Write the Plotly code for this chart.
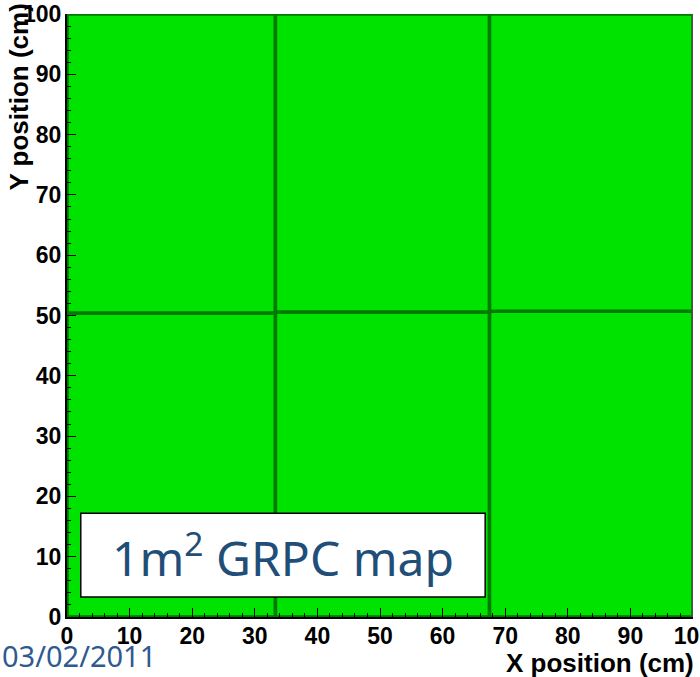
import plotly.graph_objects as go

# Pad boundaries of the 1 m^2 GRPC (cm): one rectangle per readout board
cell_x0 = [0.0, 0.0, 33.3, 33.3, 67.5, 67.5]
cell_x1 = [33.3, 33.3, 67.5, 67.5, 100.0, 100.0]
cell_y0 = [0.0, 50.4, 0.0, 50.6, 0.0, 50.7]
cell_y1 = [50.4, 100.0, 50.6, 100.0, 50.7, 100.0]

tick_vals = [0, 10, 20, 30, 40, 50, 60, 70, 80, 90, 100]
tick_text = [str(v) for v in tick_vals]

fig = go.Figure()
for x0, x1, y0, y1 in zip(cell_x0, cell_x1, cell_y0, cell_y1):
    fig.add_trace(go.Scatter(
        x=[x0, x1, x1, x0, x0],
        y=[y0, y0, y1, y1, y0],
        mode="lines",
        fill="toself",
        fillcolor="#00e300",
        line=dict(color="#007a00", width=3.5),
        hoverinfo="skip",
        showlegend=False,
    ))

tick_font = dict(family="Liberation Sans, Arial, sans-serif", size=23, color="black",
                 weight="bold")
axis_common = dict(
    range=[0, 100],
    tickvals=tick_vals,
    ticktext=tick_text,
    ticks="inside",
    ticklen=9,
    tickwidth=1,
    tickcolor="black",
    minor=dict(ticks="inside", ticklen=4, dtick=2, tickcolor="black"),
    showgrid=False,
    zeroline=False,
    showline=True,
    linecolor="black",
    linewidth=2,
    tickfont=tick_font,
    ticklabeloverflow="allow",
    automargin=False,
    layer="above traces",
)
fig.update_xaxes(**axis_common, ticklabelstandoff=-3)
fig.update_yaxes(**axis_common, ticklabelstandoff=-1)

# frame shadow on the right edge
fig.add_shape(type="line", x0=100, x1=100, y0=0, y1=100, xref="x", yref="y",
              line=dict(color="#505050", width=2.5), layer="above")

# title box
fig.add_shape(type="rect", x0=2.2, x1=66.8, y0=3.3, y1=17.2, xref="x", yref="y",
              fillcolor="white", line=dict(color="black", width=1.5), layer="above")
fig.add_annotation(x=34.5, y=10.3, xref="x", yref="y",
                   text="1m<sup>2</sup> GRPC map", showarrow=False,
                   font=dict(family="Noto Sans, sans-serif", size=48, color="#1f4e79"))

# axis titles
title_font = dict(family="Liberation Sans, Arial, sans-serif", size=26, color="black",
                  weight="bold")
fig.add_annotation(x=1, y=0, xref="paper", yref="paper", xanchor="right", yanchor="middle",
                   xshift=3, yshift=-46, text="X position (cm)", showarrow=False,
                   font=title_font)
fig.add_annotation(x=0, y=1, xref="paper", yref="paper", xanchor="center", yanchor="top",
                   xshift=-49, yshift=12, textangle=-90, text="Y position (cm)",
                   showarrow=False, font=title_font)

# date stamp
fig.add_annotation(x=0, y=0, xref="paper", yref="paper", xanchor="left", yanchor="middle",
                   xshift=-67, yshift=-38, text="03/02/2011", showarrow=False,
                   font=dict(family="Noto Sans, sans-serif", size=29, color="#2e5a90"))

fig.update_layout(
    width=700, height=677,
    margin=dict(l=67, r=7, t=14, b=60),
    paper_bgcolor="white",
    plot_bgcolor="white",
    font=dict(family="Liberation Sans, Arial, sans-serif"),
)

fig.write_html("out.html")
